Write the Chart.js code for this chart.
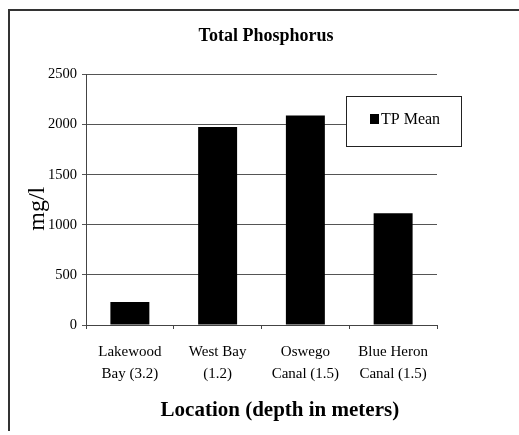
<!DOCTYPE html>
<html>
<head>
<meta charset="utf-8">
<script src="https://cdn.jsdelivr.net/npm/chart.js@4/dist/chart.umd.min.js"></script>
<style>
  html, body { margin: 0; padding: 0; background: #fff; overflow: hidden; }
  #wrap { position: relative; width: 519px; height: 435px; overflow: hidden; }
  #frame { position: absolute; left: 8px; top: 9px; width: 505px; height: 420px;
           border-left: 2px solid #333; border-top: 2px solid #333; pointer-events: none; }
  #ext { position: absolute; left: 513px; top: 9px; width: 6px; height: 2px; background: #333; }
  canvas { position: absolute; left: 0; top: 0; }
</style>
</head>
<body>
<div id="wrap">
  <canvas id="c" width="519" height="435"></canvas>
  <div id="frame"></div>
  <div id="ext"></div>
</div>
<script>
// ---- data ----
const categories = [
  ["Lakewood", "Bay (3.2)"],
  ["West Bay", "(1.2)"],
  ["Oswego", "Canal (1.5)"],
  ["Blue Heron", "Canal (1.5)"]
];
const seriesLabel = "TP Mean";
const tpMean = [230, 1975, 2090, 1115];
const yTicks = [0, 500, 1000, 1500, 2000, 2500];
const chartTitle = "Total Phosphorus";
const xTitle = "Location (depth in meters)";
const yTitle = "mg/l";

const serif = "'Liberation Serif', 'Times New Roman', serif";

const boxLegend = {
  id: 'boxLegend',
  afterDraw(chart) {
    const ctx = chart.ctx;
    const ds = chart.data.datasets[0];
    const x = 346.5, y = 96.5, w = 115, h = 50;
    ctx.save();
    ctx.fillStyle = '#fff';
    ctx.fillRect(x, y, w, h);
    ctx.strokeStyle = '#222';
    ctx.lineWidth = 1;
    ctx.strokeRect(x, y, w, h);
    ctx.fillStyle = ds.backgroundColor;
    ctx.fillRect(370, 114, 9, 10);
    ctx.fillStyle = '#000';
    ctx.font = "16px " + serif;
    ctx.textBaseline = 'middle';
    ctx.textAlign = 'left';
    ctx.fillText(ds.label, 381, 120);
    ctx.restore();
  }
};

new Chart(document.getElementById('c'), {
  type: 'bar',
  data: {
    labels: categories,
    datasets: [{
      label: seriesLabel,
      data: tpMean,
      backgroundColor: '#000',
      borderWidth: 0,
      barPercentage: 0.444,
      categoryPercentage: 1.0
    }]
  },
  options: {
    responsive: false,
    animation: false,
    devicePixelRatio: 1,
    layout: { padding: { left: 0, right: 82, top: 0, bottom: 0 } },
    plugins: {
      legend: { display: false },
      tooltip: { enabled: false },
      title: {
        display: true,
        fullSize: false,
        text: "  " + chartTitle,
        color: '#000',
        font: { family: serif, size: 18, weight: 'bold', lineHeight: 1.2 },
        padding: { top: 25.2, bottom: 27.7 }
      }
    },
    scales: {
      x: {
        afterFit(scale) { scale.height = 110; },
        grid: {
          display: true,
          drawOnChartArea: false,
          drawTicks: true,
          tickLength: 4,
          offset: true,
          color: '#444'
        },
        border: { display: true, color: '#444', width: 1 },
        ticks: {
          color: '#000',
          padding: 12.5,
          maxRotation: 0,
          autoSkip: false,
          font: { family: serif, size: 15, lineHeight: 1.45 }
        },
        title: {
          display: true,
          text: "       " + xTitle,
          color: '#000',
          font: { family: serif, size: 21, weight: 'bold', lineHeight: 1.2 },
          padding: { top: 0, bottom: 11.4 }
        }
      },
      y: {
        min: 0,
        max: 2500,
        afterFit(scale) { scale.width = 86; },
        afterBuildTicks(scale) { scale.ticks = yTicks.map(v => ({ value: v })); },
        grid: {
          display: true,
          drawOnChartArea: true,
          drawTicks: true,
          tickLength: 4,
          color: '#555',
          lineWidth: 1
        },
        border: { display: true, color: '#444', width: 1 },
        ticks: {
          color: '#000',
          padding: 5,
          font: { family: serif, size: 14.5 },
          callback: (v) => String(v)
        },
        title: {
          display: true,
          text: yTitle + "   ",
          color: '#000',
          font: { family: serif, size: 24, lineHeight: 1.2 },
          padding: { top: 23, bottom: 0 }
        }
      }
    }
  },
  plugins: [boxLegend]
});
</script>
</body>
</html>
